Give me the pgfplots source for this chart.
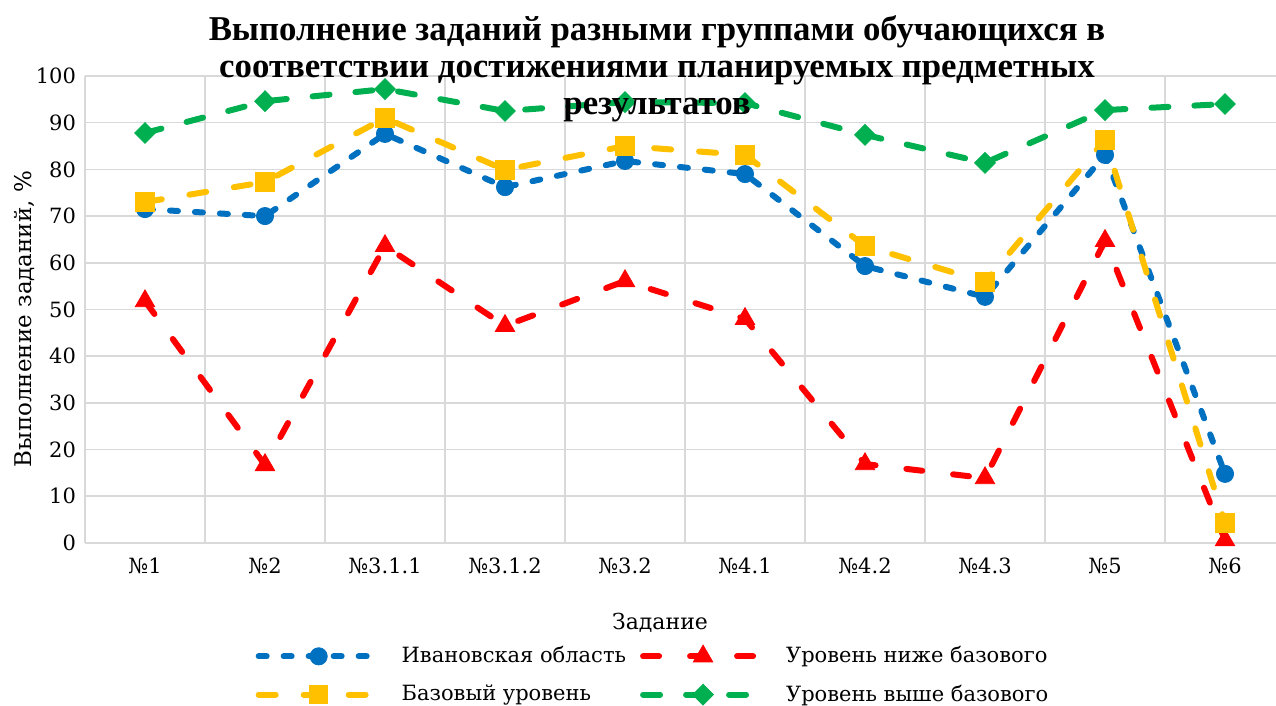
\documentclass[border=0pt]{standalone}
\usepackage{fontspec}
\setmainfont{DejaVu Serif}
\newfontfamily\titlefont{Liberation Serif}
\usepackage{pgfplots}
\pgfplotsset{compat=1.18}
\definecolor{cblue}{HTML}{0070C0}
\definecolor{cyellow}{HTML}{FFC000}
\definecolor{cred}{HTML}{FF0000}
\definecolor{cgreen}{HTML}{00B050}
\definecolor{cgrid}{HTML}{D9D9D9}
\begin{document}
\begin{tikzpicture}
\begin{axis}[
  at={(42.5pt,81.5pt)}, anchor=south west,
  scale only axis, width=595.5pt, height=233.5pt,
  xmin=-0.5, xmax=9.425, ymin=0, ymax=100,
  clip=false,
  axis line style={draw=none},
  major tick length=0pt, minor tick length=0pt,
  xtick={0,...,9},
  xticklabels={№1,№2,№3.1.1,№3.1.2,№3.2,№4.1,№4.2,№4.3,№5,№6},
  minor xtick={-0.5,0.5,1.5,2.5,3.5,4.5,5.5,6.5,7.5,8.5},
  xminorgrids=true, xmajorgrids=false,
  ytick={0,10,...,100}, ymajorgrids=true,
  grid style={cgrid, line width=0.8pt},
  minor grid style={cgrid, line width=0.8pt},
  /pgf/number format/assume math mode=true,
  tick label style={font=\fontsize{10.5}{12}\selectfont, black},
  xticklabel style={yshift=-4pt},
  yticklabel style={xshift=-1pt},
  xlabel={Задание},
  xlabel style={at={(axis description cs:0.4828,-0.1713)}, anchor=center, font=\fontsize{11}{13}\selectfont},
  ylabel={Выполнение заданий, \%},
  ylabel style={at={(axis description cs:-0.0505,0.4797)}, anchor=center, rotate=0, font=\fontsize{11.5}{13}\selectfont},
  legend columns=2,
  legend style={at={(axis description cs:0.4777,-0.2837)}, anchor=center, draw=none, fill=none,
    font=\fontsize{10.5}{12}\selectfont, row sep=5.5pt,
    /tikz/every even column/.append style={column sep=5pt},
    cells={anchor=west}},
  legend image code/.code={\draw[mark repeat=2,mark phase=2,#1] plot coordinates {(0pt,0pt) (30pt,0pt) (60pt,0pt)}; \path (68pt,0pt);},
  every axis plot/.append style={line width=3pt, line cap=round},
]
\addplot[cblue, dash pattern=on 4pt off 8.5pt, mark=*, mark size=4.3pt, mark options={solid, line width=0.4pt}]
coordinates {(0,71.5) (1,70.0) (2,87.6) (3,76.2) (4,81.8) (5,79.0) (6,59.3) (7,52.7) (8,83.1) (9,14.8)};
\addlegendentry{Ивановская область}
\addplot[cred, dash pattern=on 8pt off 15.5pt, mark=triangle*, mark size=5.6pt, mark options={solid, line width=0.4pt}]
coordinates {(0,51.8) (1,16.7) (2,63.6) (3,46.5) (4,56.1) (5,48.0) (6,16.9) (7,13.9) (8,64.7) (9,0.6)};
\addlegendentry{Уровень ниже базового}
\addplot[cyellow, dash pattern=on 8.5pt off 14pt, mark=square*, mark size=4.6pt, mark options={solid, line width=0.4pt}]
coordinates {(0,73.0) (1,77.3) (2,91.0) (3,79.9) (4,85.0) (5,83.1) (6,63.6) (7,55.9) (8,86.3) (9,4.3)};
\addlegendentry{Базовый уровень}
\addplot[cgreen, dash pattern=on 8.5pt off 13pt, mark=diamond*, mark size=5.2pt, mark options={solid, line width=0.4pt, xscale=1.33}]
coordinates {(0,87.8) (1,94.6) (2,97.2) (3,92.5) (4,94.4) (5,94.2) (6,87.4) (7,81.4) (8,92.7) (9,94.0)};
\addlegendentry{Уровень выше базового}
\end{axis}
\node[align=center, font=\titlefont\bfseries\fontsize{17.4}{18.6}\selectfont, anchor=center] at (328.5pt,318.5pt)
  {Выполнение заданий разными группами обучающихся в\\соответствии достижениями планируемых предметных\\результатов};
\pgfresetboundingbox
\path (0,0) rectangle (638pt,353pt);
\end{tikzpicture}
\end{document}
